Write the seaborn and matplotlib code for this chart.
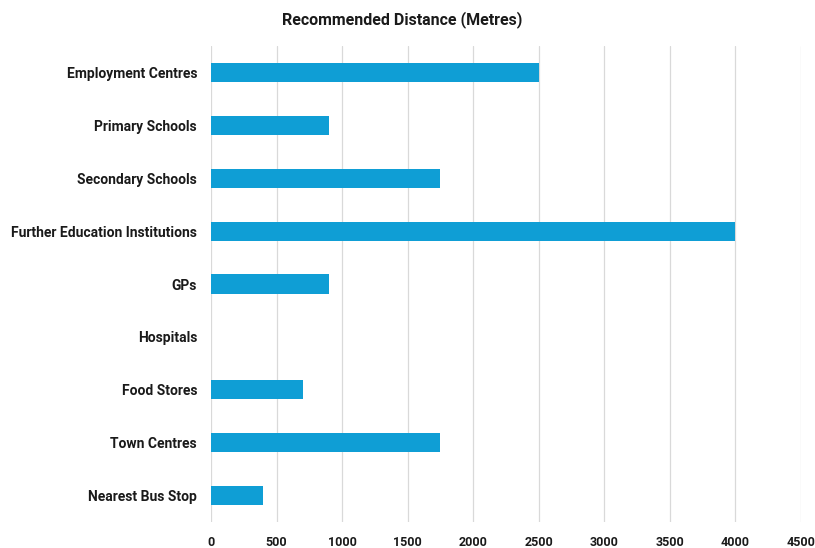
import matplotlib
matplotlib.use("Agg")
import matplotlib.pyplot as plt
import seaborn as sns
import pandas as pd

categories = ["Employment Centres", "Primary Schools", "Secondary Schools",
              "Further Education Institutions", "GPs", "Hospitals",
              "Food Stores", "Town Centres", "Nearest Bus Stop"]
distances = [2500, 900, 1750, 4000, 900, 0, 700, 1750, 400]
xticks = [0, 500, 1000, 1500, 2000, 2500, 3000, 3500, 4000, 4500]

df = pd.DataFrame({"Category": categories, "Distance": distances})

sns.set_theme(style="white")
plt.rcParams['font.family'] = ['Roboto', 'DejaVu Sans']

fig = plt.figure(figsize=(8.15, 5.48), dpi=100)
ax = fig.add_axes([211/815, 1-522/548, 590/815, 476/548])

sns.barplot(data=df, y="Category", x="Distance", orient="h", color="#0F9ED5",
            saturation=1, width=0.36, ax=ax, zorder=3, linewidth=0)

ax.set_xlim(0, 4500)
ax.set_ylim(8.5, -0.5)
ax.set_xticks(xticks)
ax.set_xticklabels([str(t) for t in xticks], fontsize=9, fontweight="bold", color="#1a1a1a")
ax.set_yticklabels(categories, fontsize=10, fontweight="bold", color="#1a1a1a")
ax.tick_params(axis="both", length=0)
ax.tick_params(axis="y", pad=10)
ax.tick_params(axis="x", pad=10)
ax.xaxis.grid(True, color="#d9d9d9", linewidth=0.9, zorder=0)
ax.set_axisbelow(True)
for s in ax.spines.values():
    s.set_visible(False)
ax.set_xlabel("")
ax.set_ylabel("")

fig.text(402/815, 1-20/548, "Recommended Distance (Metres)", ha="center", va="center",
         fontsize=11.5, fontweight="bold", color="#1a1a1a")

fig.savefig("out.png", dpi=100)
